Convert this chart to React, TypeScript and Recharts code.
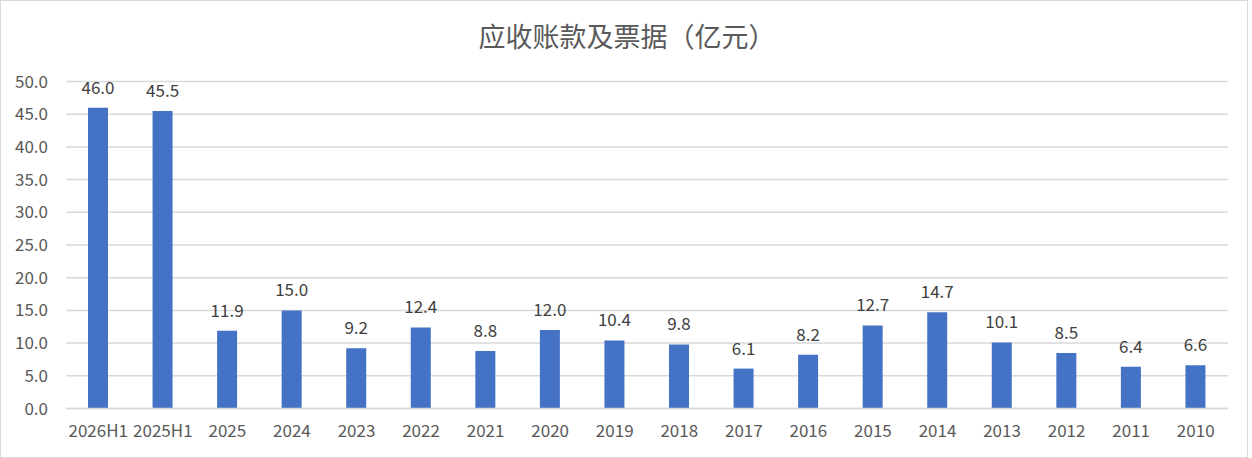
import React from "react";
import { BarChart, Bar, XAxis, YAxis, CartesianGrid, LabelList } from "recharts";

const categories = ["2026H1", "2025H1", "2025", "2024", "2023", "2022", "2021", "2020", "2019", "2018", "2017", "2016", "2015", "2014", "2013", "2012", "2011", "2010"];
const values = [46.0, 45.5, 11.9, 15.0, 9.2, 12.4, 8.8, 12.0, 10.4, 9.8, 6.1, 8.2, 12.7, 14.7, 10.1, 8.5, 6.4, 6.6];
const yTicks = [0, 5, 10, 15, 20, 25, 30, 35, 40, 45, 50];
const title = "应收账款及票据（亿元）";

const data = categories.map((c, i) => ({ name: c, value: values[i] }));

const FONT = '"Noto Sans CJK SC", "Noto Sans", sans-serif';

export default function App() {
  return (
    <div
      style={{
        position: "fixed",
        left: 0,
        top: 0,
        width: 1248,
        height: 458,
        boxSizing: "border-box",
        border: "1.5px solid #d9d9d9",
        background: "#fff",
        fontFamily: FONT,
      }}
    >
      <div
        style={{
          position: "absolute",
          left: 0,
          width: 1252,
          top: 15,
          textAlign: "center",
          fontSize: 27,
          color: "#595959",
          lineHeight: "40px",
        }}
      >
        {title}
      </div>
      <div style={{ position: "absolute", left: -1.5, top: -1.5 }}>
        <BarChart
          width={1252}
          height={458}
          data={data}
          margin={{ top: 81.5, right: 24, bottom: 19.5, left: 0 }}
          barCategoryGap="34%"
        >
          <CartesianGrid vertical={false} stroke="#d9d9d9" strokeWidth={1.5} />
          <XAxis
            dataKey="name"
            height={30}
            axisLine={{ stroke: "#d9d9d9", strokeWidth: 1.5 }}
            tickLine={false}
            tickMargin={10}
            interval={0}
            tick={{ fill: "#595959", fontSize: 17, fontFamily: FONT }}
          />
          <YAxis
            width={66}
            domain={[0, 50]}
            ticks={yTicks}
            axisLine={false}
            tickLine={false}
            tickMargin={12}
            tickFormatter={(v: number) => v.toFixed(1)}
            tick={{ fill: "#595959", fontSize: 17, fontFamily: FONT }}
          />
          <Bar dataKey="value" fill="#4472c4" barSize={20} isAnimationActive={false}>
            <LabelList
              dataKey="value"
              position="top"
              offset={14}
              formatter={(v: number) => v.toFixed(1)}
              style={{ fill: "#404040", fontSize: 17, fontFamily: FONT }}
            />
          </Bar>
        </BarChart>
      </div>
    </div>
  );
}
